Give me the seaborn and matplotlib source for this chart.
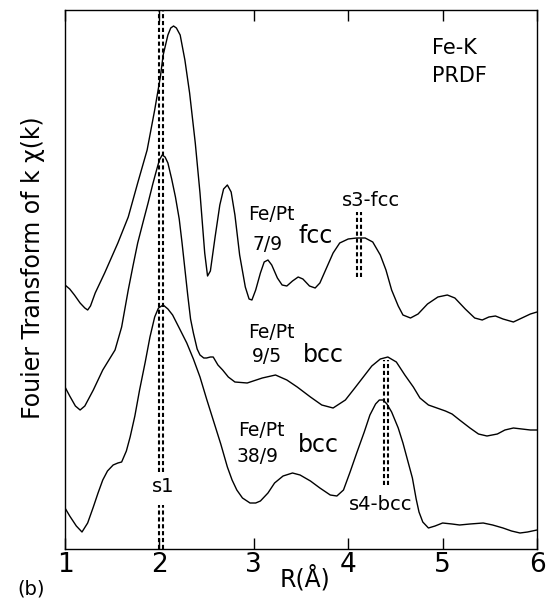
import matplotlib
matplotlib.use("Agg")
import matplotlib.pyplot as plt
import seaborn as sns
import pandas as pd

# R (Angstrom) and transform magnitude (arbitrary units, curves already offset)
r_fcc = [1.00, 1.05, 1.10, 1.16, 1.21, 1.24, 1.27, 1.32, 1.42, 1.56, 1.67, 1.77, 1.87, 1.95,
         2.01, 2.04, 2.09, 2.12, 2.15, 2.18, 2.22, 2.27, 2.32, 2.38, 2.43, 2.48, 2.51, 2.54,
         2.59, 2.64, 2.68, 2.72, 2.76, 2.80, 2.85, 2.91, 2.95, 2.98, 3.02, 3.07, 3.11, 3.15,
         3.19, 3.25, 3.30, 3.35, 3.41, 3.47, 3.52, 3.59, 3.65, 3.70, 3.77, 3.84, 3.91, 4.00,
         4.09, 4.18, 4.26, 4.34, 4.40, 4.46, 4.53, 4.58, 4.66, 4.74, 4.84, 4.95, 5.05, 5.13,
         5.24, 5.34, 5.42, 5.49, 5.56, 5.64, 5.75, 5.84, 5.93, 6.00]
ft_fcc = [264, 260, 254, 246, 241, 239, 243, 256, 276, 306, 332, 366, 399, 439,
          472, 494, 514, 521, 523, 521, 514, 489, 456, 406, 356, 296, 273, 278,
          312, 344, 360, 364, 357, 334, 294, 262, 250, 249, 259, 276, 287, 289,
          284, 271, 264, 263, 268, 272, 270, 263, 261, 266, 281, 296, 306, 310,
          311, 311, 307, 294, 279, 259, 243, 234, 231, 235, 245, 252, 254, 251,
          240, 231, 229, 232, 233, 230, 227, 231, 235, 237]

r_bcc95 = [1.00, 1.05, 1.11, 1.16, 1.21, 1.30, 1.40, 1.53, 1.60, 1.67, 1.72, 1.77, 1.83, 1.88,
           1.93, 1.97, 2.00, 2.03, 2.06, 2.09, 2.13, 2.17, 2.21, 2.24, 2.27, 2.30, 2.33, 2.36,
           2.40, 2.43, 2.47, 2.50, 2.54, 2.57, 2.62, 2.67, 2.73, 2.80, 2.93, 3.09, 3.23, 3.35,
           3.46, 3.60, 3.72, 3.84, 3.97, 4.07, 4.16, 4.25, 4.34, 4.42, 4.51, 4.60, 4.69, 4.76,
           4.85, 4.94, 5.03, 5.10, 5.18, 5.29, 5.38, 5.47, 5.58, 5.66, 5.75, 5.84, 5.93, 6.00]
ft_bcc95 = [162, 153, 143, 139, 143, 159, 179, 199, 222, 259, 283, 306, 328, 346,
            365, 379, 389, 394, 392, 386, 370, 352, 330, 306, 280, 254, 230, 216,
            200, 194, 191, 191, 192, 192, 184, 179, 172, 167, 166, 171, 174, 169,
            162, 152, 144, 141, 149, 161, 172, 183, 190, 192, 187, 174, 162, 151,
            144, 141, 138, 135, 129, 121, 115, 113, 115, 119, 121, 120, 119, 119]

r_bcc389 = [1.00, 1.05, 1.12, 1.18, 1.24, 1.30, 1.35, 1.40, 1.45, 1.51, 1.56, 1.60, 1.65, 1.69,
            1.74, 1.79, 1.85, 1.90, 1.95, 1.99, 2.04, 2.09, 2.14, 2.21, 2.29, 2.36, 2.43, 2.50,
            2.57, 2.65, 2.72, 2.77, 2.82, 2.88, 2.96, 3.02, 3.07, 3.15, 3.22, 3.31, 3.41, 3.49,
            3.60, 3.70, 3.81, 3.88, 3.95, 4.02, 4.09, 4.17, 4.23, 4.29, 4.33, 4.37, 4.41, 4.46,
            4.53, 4.58, 4.62, 4.68, 4.72, 4.75, 4.79, 4.85, 4.92, 5.00, 5.10, 5.18, 5.29, 5.43,
            5.53, 5.64, 5.73, 5.82, 5.90, 6.00]
ft_bcc389 = [41, 33, 23, 17, 26, 42, 56, 69, 78, 84, 86, 87, 98, 112,
             133, 159, 187, 212, 232, 241, 244, 240, 234, 221, 206, 190, 172, 150,
             129, 105, 82, 69, 59, 51, 46, 46, 48, 56, 66, 73, 76, 74,
             68, 61, 54, 53, 59, 77, 96, 117, 134, 145, 149, 149, 145, 137,
             121, 106, 92, 71, 50, 37, 27, 21, 23, 26, 25, 24, 25, 26,
             24, 21, 18, 16, 17, 19]

# shell markers (double dashed lines): x positions
s1_r = [2.00, 2.04]
s3_r = [4.09, 4.14]
s4_r = [4.38, 4.42]

W, H = 549, 601
sns.set_theme(style="ticks")
plt.rcParams['font.family'] = ['DejaVu Sans']
plt.rcParams['text.color'] = 'black'
plt.rcParams['xtick.color'] = 'black'
plt.rcParams['axes.edgecolor'] = 'black'

fig = plt.figure(figsize=(W / 100, H / 100), dpi=100)
ax = fig.add_axes([65 / W, 1 - 549 / H, (537 - 65) / W, (549 - 10) / H])

for r, ft in [(r_fcc, ft_fcc), (r_bcc95, ft_bcc95), (r_bcc389, ft_bcc389)]:
    df = pd.DataFrame({'R': r, 'FT': ft})
    sns.lineplot(data=df, x='R', y='FT', ax=ax, color='black', lw=1.0,
                 sort=False, estimator=None)

dash = (0, (2, 1.3))
ax.vlines(s1_r, 77, 539, colors='black', linestyles=dash, lw=1.5)
ax.vlines(s1_r, 0, 44, colors='black', linestyles=dash, lw=1.5)
ax.vlines(s3_r, 272, 337, colors='black', linestyles=dash, lw=1.5)
ax.vlines(s4_r, 64, 189, colors='black', linestyles=dash, lw=1.5)

ax.set_xlim(1, 6)
ax.set_ylim(0, 539)
ax.set_xticks([1, 2, 3, 4, 5, 6])
ax.set_yticks([])
ax.tick_params(axis='x', direction='in', length=8, width=1, top=True,
               labelsize=19, pad=2, colors='black')
for s in ax.spines.values():
    s.set_visible(True)
    s.set_color('black')
    s.set_linewidth(1.0)
ax.set_xlabel('')
ax.set_ylabel('')

# annotations
ax.text(4.89, 501, 'Fe-K', fontsize=15, va='center')
ax.text(4.89, 473, 'PRDF', fontsize=15, va='center')

ax.text(2.94, 334, 'Fe/Pt', fontsize=13.5, va='center')
ax.text(2.99, 304, '7/9', fontsize=13.5, va='center')
ax.text(3.47, 313, 'fcc', fontsize=17, va='center')

ax.text(2.94, 217, 'Fe/Pt', fontsize=13.5, va='center')
ax.text(2.98, 192, '9/5', fontsize=13.5, va='center')
ax.text(3.52, 194, 'bcc', fontsize=17, va='center')

ax.text(2.83, 119, 'Fe/Pt', fontsize=13.5, va='center')
ax.text(2.82, 93, '38/9', fontsize=13.5, va='center')
ax.text(3.47, 104, 'bcc', fontsize=17, va='center')

ax.text(2.04, 62, 's1', fontsize=14, ha='center', va='center')
ax.text(4.24, 349, 's3-fcc', fontsize=14, ha='center', va='center')
ax.text(4.34, 44, 's4-bcc', fontsize=14, ha='center', va='center')

fig.text(305 / W, 1 - 578 / H, 'R(Å)', fontsize=17, ha='center', va='center')
fig.text(31 / W, 1 - 589 / H, '(b)', fontsize=14, ha='center', va='center')
fig.text(33 / W, 1 - 268 / H, 'Fouier Transform of k χ(k)', fontsize=17,
         rotation=90, ha='center', va='center')

fig.savefig('out.png', dpi=100)
